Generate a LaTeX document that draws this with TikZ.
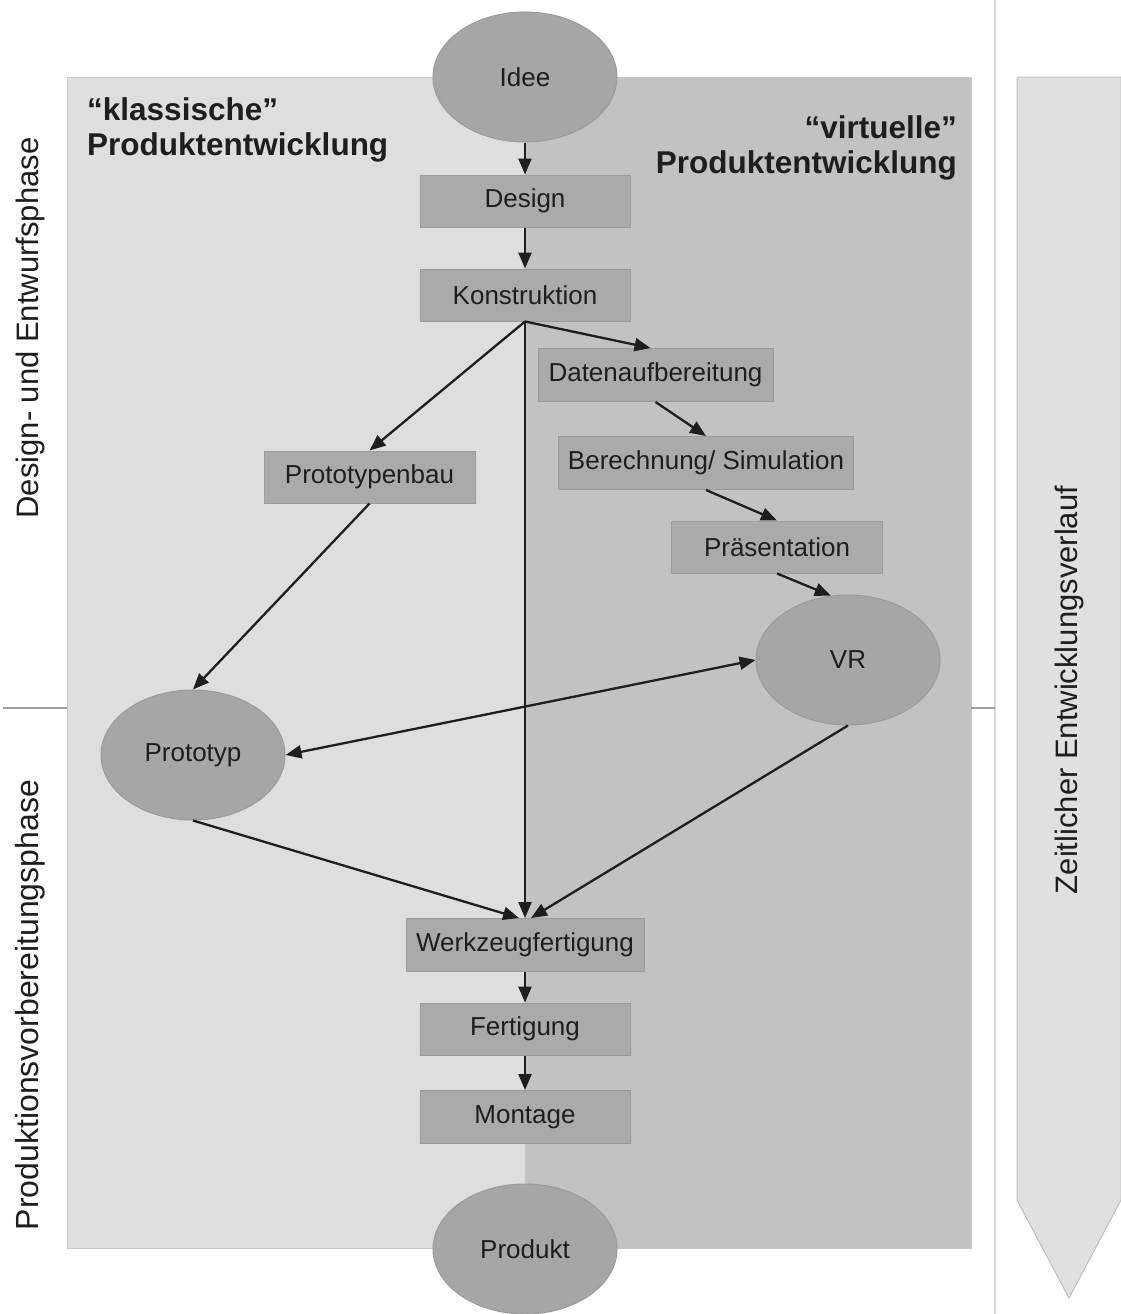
\documentclass[tikz,border=0pt]{standalone}
\usepackage{fontspec}
\setmainfont{Liberation Sans}
\usetikzlibrary{shapes.geometric,arrows.meta}
\definecolor{panelL}{RGB}{222,222,222}
\definecolor{panelR}{RGB}{194,194,194}
\definecolor{boxfill}{RGB}{170,170,170}
\definecolor{boxline}{RGB}{155,155,155}
\definecolor{ellfill}{RGB}{166,166,166}
\definecolor{txt}{RGB}{30,30,30}
\definecolor{sepline}{RGB}{160,160,160}
\definecolor{vline}{RGB}{215,215,215}
\definecolor{arrowfill}{RGB}{224,224,224}
\definecolor{arrowline}{RGB}{190,190,190}
\definecolor{panelline}{RGB}{200,200,200}
\begin{document}
\begin{tikzpicture}[x=1pt,y=-1pt,
  stepbox/.style={rectangle, fill=boxfill, draw=boxline, line width=1pt, inner sep=0pt,
    minimum height=52pt, minimum width=210pt, text=txt, font=\fontsize{26}{30}\selectfont},
  stateell/.style={ellipse, fill=ellfill, draw=boxline, line width=1pt, inner sep=0pt,
    minimum width=184pt, minimum height=130pt, text=txt, font=\fontsize{26}{30}\selectfont},
  flow/.style={line width=2.3pt, draw=txt, -{Triangle[length=16pt,width=13pt]}},
  phase/.style={rotate=90, text=txt, font=\fontsize{31}{36}\selectfont, inner sep=0pt},
  heading/.style={font=\bfseries\fontsize{31.5}{35}\selectfont, text=txt, inner sep=0pt}]
\useasboundingbox (0,0) rectangle (1121,1314);
\fill[white] (0,0) rectangle (1121,1314);

% panels
\fill[panelL] (67,77) rectangle (525,1248);
\fill[panelR] (525,77) rectangle (971,1248);
\draw[panelline, line width=1pt] (67,77) rectangle (971,1248);

% separators
\draw[vline, line width=2pt] (995,0) -- (995,1314);
\draw[sepline, line width=2pt] (3,708) -- (67,708);
\draw[sepline, line width=2pt] (971,708) -- (995,708);

% time arrow
\filldraw[fill=arrowfill, draw=arrowline, line width=1pt]
  (1017,77) -- (1121,77) -- (1121,1200) -- (1069,1298) -- (1017,1200) -- cycle;

% headings
\node[heading, anchor=base west] (h1a) at (87,120) {“klassische”};
\node[heading, anchor=base west] (h1b) at (87,155) {Produktentwicklung};
\node[heading, anchor=base east] (h2a) at (957,138) {“virtuelle”};
\node[heading, anchor=base east] (h2b) at (957,173) {Produktentwicklung};

% phase labels
\node[phase] (p1) at (30,328) {Design- und Entwurfsphase};
\node[phase, font=\fontsize{32}{36}\selectfont] (p2) at (30,1005) {Produktionsvorbereitungsphase};
\node[phase] (p3) at (1069,690) {Zeitlicher Entwicklungsverlauf};

% nodes
\node[stateell] (idee) at (525,77) {Idee};
\node[stepbox] (design) at (525,201) {Design};
\node[stepbox] (konst) at (525,295) {Konstruktion};
\node[stepbox, minimum width=235pt, minimum height=53pt] (daten) at (655.5,375) {Datenaufbereitung};
\node[stepbox, minimum width=295pt, minimum height=53pt] (berech) at (706,463) {Berechnung/ Simulation};
\node[stepbox, minimum width=211pt] (praes) at (777,547) {Präsentation};
\node[stepbox, minimum width=211pt] (ptbau) at (369.5,477) {Prototypenbau};
\node[stateell] (vr) at (848,660) {VR};
\node[stateell] (ptyp) at (193,755) {Prototyp};
\node[stepbox, minimum width=238pt, minimum height=53pt] (werkz) at (525,945) {Werkzeugfertigung};
\node[stepbox] (fert) at (525,1029) {Fertigung};
\node[stepbox, minimum height=53pt] (mont) at (525,1117) {Montage};
\node[stateell] (prod) at (525,1249) {Produkt};

% connectors
\draw[flow] (idee.south) -- (design.north);
\draw[flow] (design.south) -- (konst.north);
\draw[flow] (konst.south) -- (ptbau.north);
\draw[flow] (konst.south) -- ([xshift=-5pt]daten.north);
\draw[flow] (konst.south) -- (werkz.north);
\draw[flow] (daten.south) -- (berech.north);
\draw[flow] (berech.south) -- (praes.north);
\draw[flow] (praes.south) -- (vr.105);
\draw[flow] (ptbau.south) -- (ptyp.north);
\draw[flow, {Triangle[length=16pt,width=13pt]}-{Triangle[length=16pt,width=13pt]}] (ptyp.east) -- (vr.west);
\draw[flow] (ptyp.south) -- ([xshift=-6pt]werkz.north);
\draw[flow] (vr.south) -- ([xshift=6pt]werkz.north);
\draw[flow] (werkz.south) -- (fert.north);
\draw[flow] (fert.south) -- (mont.north);
\end{tikzpicture}
\end{document}
